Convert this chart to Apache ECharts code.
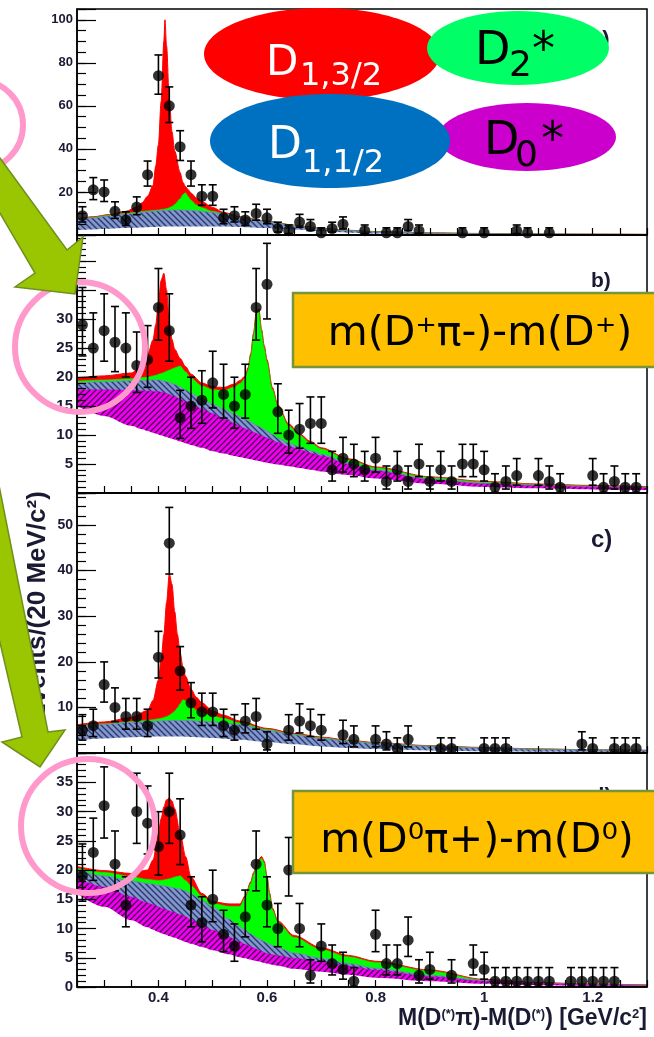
<!DOCTYPE html>
<html><head><meta charset="utf-8">
<script src="https://cdn.jsdelivr.net/npm/echarts@6/dist/echarts.min.js"></script>
<style>html,body{margin:0;padding:0;background:#fff}#c{width:654px;height:1037px}</style>
</head><body><div id="c"></div>
<script>
// ---------- tick labels ----------
const xTickLabels = [0.4, 0.6, 0.8, 1, 1.2];
const aYLabels = [20, 40, 60, 80, 100];
const bYLabels = [5, 10, 15, 20, 25, 30];
const cYLabels = [10, 20, 30, 40, 50];
const dYLabels = [0, 5, 10, 15, 20, 25, 30, 35];

// ---------- panel a) ----------
const aX     = [0.25,0.28,0.31,0.34,0.36,0.37,0.38,0.39,0.395,0.40,0.405,0.41,0.412,0.415,0.42,0.425,0.43,0.44,0.445,0.45,0.455,0.46,0.47,0.48,0.50,0.52,0.55,0.60,0.65,0.70,0.75,0.80,0.90,1.00,1.10,1.20,1.30];
const aRed   = [7.5,8.5,9.5,11,13,15,18,23,32,42,62,90,100,88,63,48,39,29,24.5,22.5,21,19.5,17.2,15.5,12.8,10.5,8.5,6.5,4.6,3.1,2.2,1.6,1.0,0.7,0.5,0.4,0.3];
const aGreen = [7.3,8.3,9.3,10.1,10.6,10.9,11.2,11.4,11.5,11.6,11.8,12,12.1,12.3,12.7,13.3,14.2,16.8,18.8,19.6,17.8,16.2,14,12.7,11,9.9,8.3,6.4,4.5,3.0,2.1,1.5,0.95,0.65,0.48,0.38,0.29];
const aBlue  = [7,8,8.9,9.7,10.2,10.5,10.8,11,11.1,11.2,11.3,11.4,11.4,11.5,11.5,11.6,11.6,11.6,11.6,11.5,11.5,11.4,11.2,11,10.4,9.6,8.1,6.2,4.3,2.8,2,1.4,0.9,0.6,0.45,0.35,0.27];
const aLow   = [2.3,2.6,2.9,3.2,3.4,3.5,3.6,3.7,3.75,3.8,3.85,3.9,3.9,3.9,3.95,4,4,4,4,4,4,4,4,4,4,3.9,3.7,3.2,2.5,1.7,1.1,0.75,0.4,0.25,0.15,0.1,0.08];
const aPtX = [0.26,0.28,0.30,0.32,0.34,0.36,0.38,0.40,0.42,0.44,0.46,0.48,0.50,0.52,0.54,0.56,0.58,0.60,0.62,0.64,0.66,0.68,0.70,0.72,0.74,0.78,0.82,0.84,0.86,0.88,0.96,1.00,1.06,1.08,1.12];
const aPtY = [9,21,20,11,7,13,28,74,60,41,28,18,18,8,9,7,10,8,3,2,6,4,1,3,5,2,1,1,4,2,1,1,2,1,1];

// ---------- panel b) ----------
const bX     = [0.25,0.30,0.35,0.37,0.38,0.39,0.395,0.40,0.405,0.41,0.415,0.42,0.425,0.43,0.44,0.45,0.46,0.48,0.50,0.52,0.54,0.55,0.56,0.565,0.57,0.575,0.58,0.585,0.59,0.595,0.60,0.61,0.62,0.64,0.66,0.68,0.70,0.75,0.80,0.90,1.00,1.10,1.20,1.30];
const bRed   = [19.9,20.2,20.7,22,23.8,26.4,29,32.8,36.7,37.9,35,29.3,26.5,24.8,23.2,21.8,20.5,19,18.3,18.2,18.8,19.4,20.2,21.6,24,27.5,31,31.8,28.2,25.4,23,18.2,15.2,11.9,10.2,8.9,7.8,5.9,4.5,2.8,2.0,1.55,1.3,1.1];
const bGreen = [19.3,19.5,19.7,19.9,20,20.2,20.3,20.5,20.6,20.8,21,21.2,21.4,21.6,21.9,20.9,19.8,18.5,17.8,17.7,18.3,18.9,19.8,21.2,23.6,27.1,30.6,31.5,27.9,25.1,22.7,17.9,14.9,11.6,9.95,8.65,7.6,5.75,4.35,2.7,1.9,1.48,1.22,1.03];
const bBlue  = [19,19.2,19.35,19.4,19.45,19.5,19.5,19.5,19.4,19.3,19.2,19.1,18.9,18.7,18.3,17.8,17.2,16.2,15.3,14.5,13.6,13.2,12.7,12.5,12.2,12,11.7,11.5,11.2,11,10.7,10.1,9.5,8.6,8.0,7.3,6.7,5.2,4.0,2.4,1.7,1.35,1.12,0.95];
const bMag   = [17.8,17.8,17.7,17.65,17.6,17.55,17.5,17.5,17.4,17.3,17.2,17.0,16.8,16.6,16.2,15.8,15.4,14.5,13.7,12.9,12,11.5,11.1,10.9,10.7,10.5,10.3,10.1,9.9,9.7,9.5,9.1,8.7,8.0,7.5,6.9,6.4,5.0,3.8,2.3,1.6,1.28,1.07,0.9];
const bLow   = [15,13.3,11.6,11,10.7,10.4,10.25,10.1,9.95,9.8,9.65,9.5,9.35,9.2,8.9,8.6,8.3,7.8,7.2,6.8,6.4,6.2,6.0,5.9,5.8,5.7,5.6,5.5,5.4,5.3,5.2,5.05,4.9,4.6,4.3,4.0,3.7,3.1,2.5,1.6,1.05,0.8,0.62,0.5];
const bPtX = [0.26,0.28,0.30,0.32,0.34,0.36,0.38,0.40,0.42,0.44,0.46,0.48,0.50,0.52,0.54,0.56,0.58,0.60,0.62,0.64,0.66,0.68,0.70,0.72,0.74,0.76,0.78,0.80,0.82,0.84,0.86,0.88,0.90,0.92,0.94,0.96,0.98,1.00,1.02,1.04,1.06,1.10,1.12,1.14,1.20,1.22,1.24,1.26,1.28];
const bPtY = [29,25,28,26,25,22,23,32,28,13,15,16,19,17,15,17,32,36,14,10,11,12,12,4,6,5,4,6,2,4,2,5,2,4,2,5,5,4,1,2,3,3,2,1,3,1,2,1,1];

// ---------- panel c) ----------
const cX     = [0.25,0.30,0.35,0.38,0.39,0.40,0.405,0.41,0.415,0.42,0.425,0.43,0.435,0.44,0.445,0.45,0.46,0.47,0.48,0.50,0.52,0.55,0.60,0.65,0.70,0.75,0.80,0.90,1.00,1.10,1.20,1.30];
const cRed   = [6.2,6.8,7.8,9.3,11.5,16,20.5,26,33,39.3,37,31,26,22,19,16.8,14,12.2,11,9.2,8.3,7,5.4,4.3,3.5,2.8,2.3,1.6,1.2,0.9,0.7,0.6];
const cGreen = [5.9,6.4,6.9,7.2,7.3,7.5,7.6,7.8,8,8.3,8.7,9.2,9.9,10.8,11.7,11.5,10.3,9.4,8.8,8.1,7.6,6.6,5.2,4.1,3.35,2.7,2.2,1.55,1.15,0.87,0.68,0.57];
const cBlue  = [5.8,6.3,6.7,6.85,6.9,7,7,7.05,7.05,7.1,7.1,7.1,7.1,7.1,7.1,7.1,7.05,7.0,6.95,6.85,6.6,6.2,5.0,4.0,3.2,2.6,2.1,1.5,1.1,0.85,0.66,0.55];
const cLow   = [2.8,3.2,3.45,3.55,3.6,3.6,3.6,3.6,3.6,3.6,3.6,3.6,3.6,3.6,3.6,3.55,3.5,3.45,3.4,3.3,3.15,2.9,2.4,1.9,1.45,1.1,0.85,0.55,0.38,0.28,0.22,0.18];
const cPtX = [0.26,0.28,0.30,0.32,0.34,0.36,0.38,0.40,0.42,0.44,0.46,0.48,0.50,0.52,0.54,0.56,0.58,0.60,0.64,0.66,0.68,0.70,0.74,0.76,0.80,0.82,0.84,0.86,0.92,0.94,1.00,1.02,1.04,1.18,1.20,1.24,1.26,1.28];
const cPtY = [5,6,15,10,8,8,6,21,46,18,11,9,9,6,5,7,8,2,5,7,6,5,4,3,3,2,1,3,1,1,1,1,1,2,1,1,1,1];

// ---------- panel d) ----------
const dX     = [0.25,0.30,0.35,0.38,0.39,0.40,0.405,0.41,0.415,0.42,0.425,0.43,0.44,0.45,0.46,0.48,0.50,0.53,0.55,0.56,0.57,0.575,0.58,0.585,0.59,0.595,0.60,0.605,0.61,0.62,0.65,0.70,0.75,0.80,0.90,1.00,1.10,1.20,1.30];
const dRed   = [20.6,19.9,19.4,20,21.7,26.3,28.8,30.8,32,32.3,31.8,30.5,26.3,22.3,18.8,16,14.6,14.2,14.2,15.6,18,19.5,20.8,21.8,22.3,21.5,19,16,13.5,11.3,8.8,6.7,5.4,4.4,2.9,1.3,0.75,0.5,0.35];
const dGreen = [20.3,19.6,18.9,18.4,18.3,18.2,18.25,18.3,18.4,18.5,18.65,18.8,19.0,18.2,17.3,15.6,14.3,13.8,13.8,15.3,17.7,19.2,20.5,21.5,22.0,21.2,18.7,15.7,13.2,11.0,8.5,6.4,5.15,4.2,2.75,1.2,0.7,0.47,0.32];
const dBlue  = [20,19,18.1,17.7,17.6,17.4,17.35,17.3,17.2,17.1,17.0,16.9,16.75,16.4,15.9,14.8,13.7,11.6,10.3,9.7,9.1,8.8,8.5,8.25,8.0,7.75,7.5,7.3,7.1,6.7,5.8,4.9,4.0,3.2,2.0,1.1,0.65,0.44,0.3];
const dMag   = [18.6,17.1,15.4,14.4,14.05,13.7,13.5,13.35,13.2,13.0,12.85,12.7,12.35,12.0,11.5,10.6,9.7,8.5,7.7,7.3,6.9,6.7,6.5,6.3,6.1,5.9,5.7,5.6,5.5,5.35,4.9,4.3,3.6,2.9,1.8,1.0,0.6,0.4,0.28];
const dLow   = [16,13.7,11.4,10.2,9.8,9.4,9.2,9.05,8.9,8.7,8.55,8.4,8.05,7.7,7.4,6.85,6.3,5.6,5.1,4.9,4.65,4.55,4.45,4.35,4.25,4.1,4.0,3.9,3.8,3.65,3.1,2.6,2.1,1.6,1.0,0.55,0.32,0.2,0.14];
const dPtX = [0.26,0.28,0.30,0.32,0.34,0.36,0.38,0.40,0.42,0.44,0.46,0.48,0.50,0.52,0.54,0.56,0.58,0.60,0.62,0.64,0.66,0.68,0.70,0.72,0.74,0.76,0.80,0.82,0.84,0.86,0.88,0.90,0.94,0.98,1.00,1.02,1.04,1.06,1.08,1.10,1.12,1.16,1.18,1.20,1.22,1.24];
const dPtY = [19,23,31,21,14,30,28,24,30,26,14,11,15,9,7,12,21,14,10,20,10,2,7,4,3,1,9,4,4,8,2,3,2,4,3,1,1,1,1,1,1,1,1,1,1,1];

// Poisson (68%) error bar sizes, looked up by the count
const errLo = {1:0.87,2:1.32,3:1.66,4:1.94,5:2.18,6:2.40,7:2.60,8:2.78,9:2.96,10:3.12,11:3.28,12:3.43,13:3.57,14:3.71,15:3.84,16:3.97,17:4.09,18:4.21,19:4.33,20:4.44,21:4.56,22:4.66,23:4.77,24:4.87,25:4.97,26:5.07,27:5.17,28:5.27,29:5.36,30:5.45,31:5.54,32:5.63,36:5.98,41:6.38,46:6.76,60:7.73,74:8.59};
const errHi = {1:2.32,2:2.66,3:2.94,4:3.18,5:3.40,6:3.60,7:3.78,8:3.96,9:4.12,10:4.28,11:4.43,12:4.57,13:4.71,14:4.84,15:4.97,16:5.09,17:5.21,18:5.33,19:5.45,20:5.56,21:5.67,22:5.77,23:5.87,24:5.97,25:6.07,26:6.17,27:6.27,28:6.36,29:6.45,30:6.55,31:6.63,32:6.72,36:7.06,41:7.46,46:7.84,60:8.80,74:9.65};

// ---------- hatch patterns ----------
function hatch(bg, fg, slash) {
  const s = 6, c = document.createElement('canvas');
  c.width = s; c.height = s;
  const g = c.getContext('2d');
  g.fillStyle = bg; g.fillRect(0, 0, s, s);
  g.strokeStyle = fg; g.lineWidth = 1.4;
  g.beginPath();
  if (slash) {
    g.moveTo(0, s); g.lineTo(s, 0);
    g.moveTo(-1, 1); g.lineTo(1, -1);
    g.moveTo(s - 1, s + 1); g.lineTo(s + 1, s - 1);
  } else {
    g.moveTo(0, 0); g.lineTo(s, s);
    g.moveTo(-1, s - 1); g.lineTo(1, s + 1);
    g.moveTo(s - 1, -1); g.lineTo(s + 1, 1);
  }
  g.stroke();
  return { image: c, repeat: 'repeat' };
}
const blueHatch = hatch('#8497cc', '#2b3a6e', false);
const magHatch = hatch('#f000f0', '#55005a', true);

const panels = [
  { top: 9,   height: 226, max: 105,  minor: 5, major: 20, labels: aYLabels, lbl: 13, x: aX, red: aRed, green: aGreen, blue: aBlue, mag: null, low: aLow, px: aPtX, py: aPtY },
  { top: 235, height: 258, max: 44.5, minor: 1, major: 5,  labels: bYLabels, lbl: 15, x: bX, red: bRed, green: bGreen, blue: bBlue, mag: bMag, low: bLow, px: bPtX, py: bPtY },
  { top: 493, height: 260, max: 57,   minor: 2, major: 10, labels: cYLabels, lbl: 14, x: cX, red: cRed, green: cGreen, blue: cBlue, mag: null, low: cLow, px: cPtX, py: cPtY },
  { top: 753, height: 234, max: 40,   minor: 1, major: 5,  labels: dYLabels, lbl: 15, x: dX, red: dRed, green: dGreen, blue: dBlue, mag: dMag, low: dLow, px: dPtX, py: dPtY }
];

const zip = (xs, ys) => xs.map((x, i) => [x, ys[i]]);
const LBL = '#1a1a33';
const grids = [], xAxes = [], yAxes = [], series = [];

panels.forEach((P, p) => {
  grids.push({ left: 77, right: 7, top: P.top, height: P.height, show: true, borderColor: '#000', borderWidth: 1.5, backgroundColor: 'transparent', z: 10 });
  xAxes.push({
    type: 'value', gridIndex: p, min: 0.25, max: 1.3, interval: 0.05, z: 10,
    axisLine: { show: true, onZero: false, lineStyle: { color: '#000', width: 1.5 } },
    axisTick: { show: true, inside: true, length: 7, lineStyle: { color: '#000', width: 1.2 } },
    axisLabel: {
      show: p === 3, margin: 3, fontFamily: 'Liberation Sans', fontWeight: 'bold', fontSize: 15, color: LBL,
      formatter: v => { const k = Math.round(v * 100); return xTickLabels.some(t => Math.round(t * 100) === k) ? String(k / 100) : ''; }
    },
    splitLine: { show: false }
  });
  yAxes.push({
    type: 'value', gridIndex: p, min: 0, max: P.max, interval: P.minor, z: 10, position: 'left',
    axisLine: { show: true, onZero: false, lineStyle: { color: '#000', width: 1.5 } },
    axisTick: { show: true, inside: true, length: 9, lineStyle: { color: '#000', width: 1.2 } },
    axisLabel: {
      margin: 4, fontFamily: 'Liberation Sans', fontWeight: 'bold', fontSize: P.lbl, color: LBL,
      formatter: v => P.labels.some(t => Math.abs(t - v) < 1e-6) ? String(Math.round(v)) : ''
    },
    splitLine: { show: false }
  });
  yAxes.push({
    type: 'value', gridIndex: p, min: 0, max: P.max, interval: P.major, z: 10, position: 'left',
    axisLine: { show: false, onZero: false },
    axisTick: { show: true, inside: true, length: 19, lineStyle: { color: '#000', width: 1.2 } },
    axisLabel: { show: false }, splitLine: { show: false }
  });
  const yi = 2 * p;
  const area = (data, fill, lineColor, lw, z) => ({
    type: 'line', xAxisIndex: p, yAxisIndex: yi, data, symbol: 'none', silent: true, z,
    smooth: 0.3, smoothMonotone: 'x',
    lineStyle: { color: lineColor, width: lw }, areaStyle: { color: fill, opacity: 1 }
  });
  series.push(area(zip(P.x, P.red), '#ff0000', '#ff0000', 1, 1));
  series.push(area(zip(P.x, P.green), '#00ff00', '#00ee00', 0.6, 1));
  series.push(area(zip(P.x, P.blue), blueHatch, '#7586bb', 0.8, 1));
  if (P.mag) series.push(area(zip(P.x, P.mag), magHatch, '#d000d0', 0.5, 1));
  series.push(area(zip(P.x, P.low), '#ffffff', '#ffffff', 0, 1));
  series.push({
    type: 'custom', xAxisIndex: p, yAxisIndex: yi, clip: true, silent: true, z: 5,
    data: P.px.map((x, i) => [x, P.py[i] - errLo[P.py[i]], P.py[i] + errHi[P.py[i]]]),
    encode: { x: 0, y: [1, 2] },
    renderItem: (params, api) => {
      const x = api.value(0);
      const a = api.coord([x, api.value(1)]);
      const b = api.coord([x, api.value(2)]);
      const w = 4, st = { stroke: '#000', lineWidth: 1.6 };
      return { type: 'group', children: [
        { type: 'line', shape: { x1: a[0], y1: a[1], x2: b[0], y2: b[1] }, style: st },
        { type: 'line', shape: { x1: a[0] - w, y1: a[1], x2: a[0] + w, y2: a[1] }, style: st },
        { type: 'line', shape: { x1: b[0] - w, y1: b[1], x2: b[0] + w, y2: b[1] }, style: st }
      ] };
    }
  });
  series.push({ type: 'scatter', xAxisIndex: p, yAxisIndex: yi, data: zip(P.px, P.py), symbol: 'circle', symbolSize: 11, itemStyle: { color: '#000' }, silent: true, z: 6 });
});

const FS = '"DejaVu Sans"';
const txt = (x, y, text, font, fill, align, va) => ({ type: 'text', x, y, style: { text, font, fill, align: align || 'left', verticalAlign: va || 'middle', textAlign: align || 'left', textVerticalAlign: va || 'middle' } });
const pink = (cx, cy, r) => ({ type: 'circle', shape: { cx, cy, r }, style: { fill: 'none', stroke: '#ff99cc', lineWidth: 6 } });
const arrowStyle = { fill: '#99c600', stroke: '#6f8f1e', lineWidth: 1.5 };

const graphics = [
  txt(590, 40, 'a)', 'bold 22px "Liberation Sans"', LBL),
  txt(591, 281, 'b)', 'bold 21px "Liberation Sans"', LBL),
  txt(591, 540, 'c)', 'bold 24px "Liberation Sans"', LBL),
  txt(591, 797, 'd)', 'bold 22px "Liberation Sans"', LBL),
  { type: 'text', x: 38, y: 606, rotation: Math.PI / 2, style: { text: 'Events/(20 MeV/c²)', font: 'bold 26px "Liberation Sans"', fill: LBL, align: 'center', verticalAlign: 'middle', textAlign: 'center', textVerticalAlign: 'middle' } },
  { type: 'text', x: 647, y: 1019, style: {
      text: '{a|M(D}{s|(*)}{a|π)-M(D}{s|(*)}{a|) [GeV/c}{s|2}{a|]}',
      align: 'right', verticalAlign: 'middle', textAlign: 'right', textVerticalAlign: 'middle',
      rich: { a: { font: 'bold 23px "Liberation Sans"', fill: LBL }, s: { font: 'bold 13px "Liberation Sans"', fill: LBL, verticalAlign: 'top' } }
  } },
  // state ellipses
  { type: 'ellipse', shape: { cx: 322, cy: 54, rx: 118, ry: 46 }, style: { fill: '#ff0000' } },
  { type: 'ellipse', shape: { cx: 518, cy: 48, rx: 91, ry: 37 }, style: { fill: '#00ff66' } },
  { type: 'ellipse', shape: { cx: 527, cy: 137, rx: 89, ry: 34 }, style: { fill: '#cc00cc' } },
  { type: 'ellipse', shape: { cx: 330, cy: 141, rx: 120, ry: 47 }, style: { fill: '#0070c0' } },
  txt(266, 64, 'D', '42px ' + FS, '#fff'),
  txt(300, 77, '1,3/2', '32px ' + FS, '#fff'),
  txt(268, 147, 'D', '44px ' + FS, '#fff'),
  txt(302, 164, '1,1/2', '32px ' + FS, '#fff'),
  txt(475, 52, 'D', '46px ' + FS, '#000'),
  txt(509, 67, '2', '36px ' + FS, '#000'),
  txt(532, 52, '*', '46px ' + FS, '#000'),
  txt(484, 142, 'D', '46px ' + FS, '#000'),
  txt(515, 157, '0', '36px ' + FS, '#000'),
  txt(541, 142, '*', '46px ' + FS, '#000'),
  // channel boxes
  { type: 'rect', shape: { x: 293, y: 293, width: 400, height: 74 }, style: { fill: '#ffc000', stroke: '#77933c', lineWidth: 2.5 } },
  txt(480, 334, 'm(D⁺π-)-m(D⁺)', '41px ' + FS, '#000', 'center'),
  { type: 'rect', shape: { x: 293, y: 791, width: 400, height: 82 }, style: { fill: '#ffc000', stroke: '#77933c', lineWidth: 2.5 } },
  txt(477, 841, 'm(D⁰π+)-m(D⁰)', '41px ' + FS, '#000', 'center'),
  // pink circles
  pink(-22, 125, 45),
  pink(80, 347, 65),
  pink(88, 826, 67),
  // green arrows
  { type: 'polygon', shape: { points: [[-30, 117], [67, 250], [83, 237], [75, 294], [15, 287], [35, 273], [-30, 162]] }, style: arrowStyle },
  { type: 'polygon', shape: { points: [[-10, 440], [48, 732], [65, 730], [40, 767], [2, 742], [22, 737], [-45, 450]] }, style: arrowStyle }
];
graphics.forEach((g, i) => { g.z = 100 + i; });

const chart = echarts.init(document.getElementById('c'), null, { renderer: 'canvas' });
chart.setOption({
  animation: false,
  backgroundColor: '#fff',
  grid: grids, xAxis: xAxes, yAxis: yAxes, series,
  graphic: { elements: graphics }
});
</script></body></html>
